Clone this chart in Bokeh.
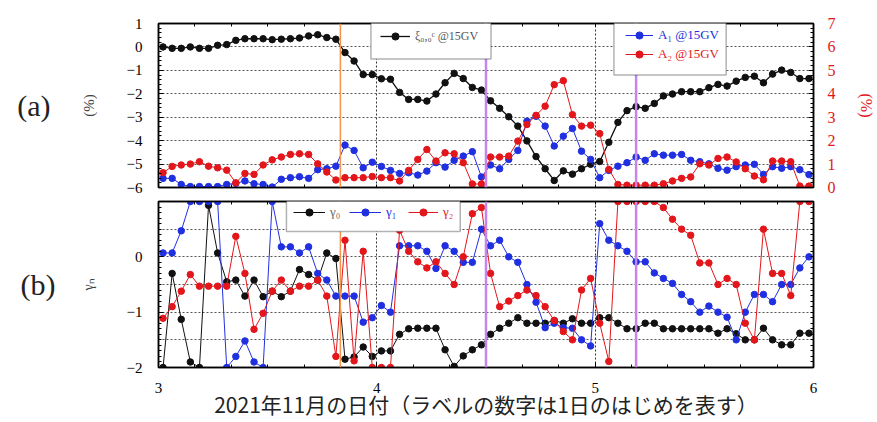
import numpy as np
from bokeh.plotting import figure
from bokeh.models import (LinearAxis, Range1d, FixedTicker, Span, Legend, LegendItem,
                          BoxAnnotation, ColumnDataSource)
from bokeh.layouts import column
from bokeh.embed import file_html
from bokeh.resources import INLINE

# ---------------- data ----------------
# hourly bins (bin centres), day of November 2021
hour_index = np.arange(72)
day = 3 + (hour_index + 0.5) / 24

xi = [0.0, -0.06, -0.06, 0.0, -0.06, -0.06, 0.07, 0.1, 0.28, 0.35, 0.35, 0.35, 0.31, 0.33, 0.35, 0.38,
      0.47, 0.52, 0.4, 0.33, -0.24, -0.6, -1.18, -1.18, -1.36, -1.38, -1.94, -2.24, -2.24, -2.31, -2.01,
      -1.53, -1.13, -1.35, -1.73, -1.84, -2.30, -2.62, -2.98, -3.38, -4.01, -4.68, -5.2, -5.7, -5.29,
      -5.43, -5.2, -5.01, -4.89, -4.07, -3.22, -2.72, -2.55, -2.62, -2.41, -2.09, -2.01, -1.91, -1.91,
      -1.91, -1.74, -1.6, -1.67, -1.46, -1.3, -1.25, -1.53, -1.16, -0.99, -1.09, -1.35, -1.35]

a1 = [0.39, 0.39, 0.13, 0.04, 0.04, 0.04, 0.04, 0.13, 0.18, 0.28, 0.16, 0.13, 0.02, 0.35, 0.42, 0.46,
      0.39, 0.76, 0.8, 0.91, 1.81, 1.58, 0.84, 1.08, 0.9, 0.73, 0.6, 0.63, 0.53, 0.7, 1.06, 0.87, 1.16,
      1.34, 1.53, 0.45, 0.96, 0.8, 1.2, 1.58, 2.83, 3.04, 2.62, 1.77, 2.19, 2.52, 1.55, 1.2, 0.42,
      0.73, 0.91, 1.06, 1.3, 1.16, 1.44, 1.38, 1.38, 1.41, 1.16, 1.1, 1.01, 0.82, 0.74, 0.89, 0.96,
      0.99, 0.56, 0.89, 0.82, 0.89, 0.76, 0.55]

a2 = [0.63, 0.9, 0.96, 1.0, 1.1, 0.91, 0.84, 0.74, 0.2, 0.6, 0.56, 0.96, 1.18, 1.3, 1.41, 1.44, 1.41,
      1.01, 0.66, 0.32, 0.42, 0.42, 0.42, 0.47, 0.42, 0.42, 0.28, 0.73, 1.2, 1.62, 1.13, 1.48, 1.44,
      1.06, 0.15, 0.15, 1.3, 1.3, 1.34, 1.98, 2.69, 3.08, 3.47, 4.39, 4.56, 3.11, 2.62, 2.66, 2.3,
      0.77, 0.13, 0.1, 0.1, 0.1, 0.1, 0.16, 0.28, 0.39, 0.45, 1.01, 0.96, 1.24, 1.3, 1.09, 0.8, 0.49,
      0.33, 1.13, 1.13, 1.1, 0.06, 0.06]

g0 = [-2.0, -0.3, -1.13, -1.9, -2.0, 0.93, 0.07, -0.45, -0.42, -0.71, -0.42, -0.72, -0.62, -0.72,
      -0.62, -0.23, -0.32, -0.42, 0.07, -0.03, -1.85, -1.81, -1.63, -1.8, -1.7, -1.7, -1.4, -1.3,
      -1.29, -1.29, -1.29, -1.68, -1.98, -1.79, -1.68, -1.59, -1.4, -1.29, -1.2, -1.1, -1.2, -1.2,
      -1.2, -1.15, -1.2, -1.12, -1.2, -1.2, -1.1, -1.1, -1.2, -1.3, -1.3, -1.2, -1.2, -1.3, -1.3,
      -1.3, -1.3, -1.3, -1.3, -1.38, -1.3, -1.39, -1.5, -1.5, -1.29, -1.5, -1.59, -1.59, -1.38, -1.38]

g1 = [0.07, 0.07, 0.47, 1.0, 1.0, 1.0, 1.0, -2.0, -1.8, -1.52, -1.9, -2.0, 1.0, 0.18, 0.18, 0.07,
      0.18, -0.3, -0.42, -0.71, -0.71, -0.71, -1.18, -1.1, -0.88, -1.0, 0.2, 0.2, 0.2, 0.1, -0.21,
      0.2, 0.1, -0.1, -0.1, 0.5, 0.2, 0.3, 0.0, -0.1, -0.5, -0.82, -1.28, -1.2, -1.28, -1.29, -1.5,
      -1.61, 0.6, 0.3, 0.2, 0.1, -0.09, -0.09, -0.29, -0.39, -0.48, -0.68, -0.81, -1.0, -0.89, -1.0,
      -1.09, -1.5, -1.0, -0.68, -0.68, -0.81, -0.5, -0.5, -0.2, 0.0]

g2 = [-1.11, -0.9, -0.62, -0.32, -0.53, -0.53, -0.53, -0.53, 0.37, -0.3, -1.31, -1.02, -0.62, -0.42,
      -0.62, -0.53, -0.53, -0.42, -0.71, -1.8, 0.3, -1.88, 0.1, -2.0, -2.0, -2.0, 0.48, 0.1, -0.09,
      -0.2, -0.09, -0.3, -0.5, 0.0, 0.78, 0.89, -0.3, -0.9, -0.8, -0.7, -0.6, -0.7, -0.9, -1.15,
      -1.35, -1.5, -0.6, -0.39, -1.2, -1.89, 1.0, 1.0, 1.0, 1.0, 1.0, 0.89, 0.68, 0.5, 0.39, -0.11,
      -0.11, -0.5, -0.39, -0.5, -1.2, -1.5, 0.5, -0.3, -0.3, -0.7, 1.0, 1.0]

orange_events = [3.833]
purple_events = [4.5, 5.1875]

x_ticks = [3, 4, 5, 6]
left_ticks = [-6, -5, -4, -3, -2, -1, 0, 1]
right_ticks = [0, 1, 2, 3, 4, 5, 6, 7]
g_ticks = [-2, -1, 0]

# ---------------- style ----------------
SERIF = "Liberation Serif"
BLACK = "#111111"
BLUE = "#2030e0"
RED = "#e3161b"
ORANGE = "#f5944a"
PURPLE = "#c684ee"
W = 877

src = ColumnDataSource(dict(day=day, xi=xi, a1=a1, a2=a2, g0=g0, g1=g1, g2=g2))


def style_axis(ax, size="15px"):
    ax.axis_line_color = "black"
    ax.axis_line_width = 1.5
    ax.major_tick_in = 5
    ax.major_tick_out = 0
    ax.minor_tick_in = 3
    ax.minor_tick_out = 0
    ax.major_tick_line_color = "black"
    ax.minor_tick_line_color = "black"
    ax.major_label_text_font = SERIF
    ax.major_label_text_font_size = size
    ax.major_label_text_color = "black"


def tick_only_axis(ax, marks):
    # frame-side ticks without any labels (all marks given as minor ticks)
    ax.ticker = FixedTicker(ticks=[], minor_ticks=marks)
    ax.axis_line_color = "black"
    ax.axis_line_width = 1.5
    ax.minor_tick_in = 3
    ax.minor_tick_out = 0
    ax.minor_tick_line_color = "black"
    ax.major_label_standoff = 0


def panel_tag(ax, pos, text, standoff):
    # an extra, line-less axis that only carries the panel tag "(a)" / "(b)"
    ax.ticker = FixedTicker(ticks=[pos], minor_ticks=[])
    ax.major_label_overrides = {pos: text}
    ax.axis_line_color = None
    ax.major_tick_line_color = None
    ax.minor_tick_line_color = None
    ax.major_tick_out = 0
    ax.major_tick_in = 0
    ax.major_label_standoff = standoff
    ax.major_label_text_font = SERIF
    ax.major_label_text_font_size = "30px"
    ax.major_label_text_color = "#222222"


x_minor = list(np.arange(3, 6.001, 1 / 6))

# ---------------- panel (a) ----------------
p1 = figure(width=W, height=197, x_range=Range1d(3, 6), y_range=Range1d(-6, 1),
            output_backend="svg", toolbar_location=None,
            min_border_left=158, min_border_right=59, min_border_top=23, min_border_bottom=10)
p1.extra_y_ranges = {"pct": Range1d(0, 7)}
p1.outline_line_color = "black"
p1.outline_line_width = 1.5

tick_only_axis(p1.xaxis[0], x_minor)
top1 = LinearAxis()
tick_only_axis(top1, x_minor)
p1.add_layout(top1, "above")

p1.yaxis.ticker = FixedTicker(ticks=left_ticks, minor_ticks=list(np.arange(-6, 1.001, 0.2)))
style_axis(p1.yaxis[0], size="15px")
p1.yaxis.major_label_standoff = 16
p1.yaxis.axis_label = "(%)"
p1.yaxis.axis_label_text_font = SERIF
p1.yaxis.axis_label_text_font_style = "normal"
p1.yaxis.axis_label_text_font_size = "15px"
p1.yaxis.axis_label_standoff = 27

tag_a = LinearAxis()
panel_tag(tag_a, -2.5, "(a)", 27)
p1.add_layout(tag_a, "left")

rax = LinearAxis(y_range_name="pct",
                 ticker=FixedTicker(ticks=right_ticks, minor_ticks=list(np.arange(0, 7.001, 0.2))),
                 axis_label="(%)")
style_axis(rax, size="16px")
rax.major_label_text_color = RED
rax.major_label_standoff = 14
rax.axis_label_text_color = RED
rax.axis_label_text_font = SERIF
rax.axis_label_text_font_style = "normal"
rax.axis_label_text_font_size = "16px"
rax.axis_label_standoff = 19
p1.add_layout(rax, "right")

p1.xgrid.ticker = FixedTicker(ticks=[4, 5])
p1.xgrid.grid_line_color = "#333333"
p1.xgrid.grid_line_dash = "2 2"
p1.ygrid.ticker = FixedTicker(ticks=[-5, -4, -3, -2, -1, 0])
p1.ygrid.grid_line_color = "#555555"
p1.ygrid.grid_line_dash = "2 2"

for xv in orange_events:
    p1.add_layout(Span(location=xv, dimension="height", line_color=ORANGE, line_width=1.5))
for xv in purple_events:
    p1.add_layout(Span(location=xv, dimension="height", line_color=PURPLE, line_width=2.5))

r_xi_l = p1.line("day", "xi", source=src, line_color=BLACK, line_width=1.3)
r_xi_c = p1.scatter("day", "xi", source=src, size=6.5, color=BLACK)
r_a1_l = p1.line("day", "a1", source=src, y_range_name="pct", line_color=BLUE, line_width=1)
r_a1_c = p1.scatter("day", "a1", source=src, y_range_name="pct", size=6.5, color=BLUE)
r_a2_l = p1.line("day", "a2", source=src, y_range_name="pct", line_color=RED, line_width=1)
r_a2_c = p1.scatter("day", "a2", source=src, y_range_name="pct", size=6.5, color=RED)

# legend boxes
p1.add_layout(BoxAnnotation(left=3.973, right=4.523, bottom=-0.52, top=1.15,
                            fill_color="white", fill_alpha=1, line_color="black", line_width=1.5))
p1.add_layout(BoxAnnotation(left=5.086, right=5.6, bottom=-1.2, top=1.15,
                            fill_color="white", fill_alpha=1, line_color="black", line_width=1.5))


def mk_legend(items, loc, color, size="12px", glyph_width=30):
    lg = Legend(items=items, location=loc, orientation="horizontal",
                border_line_alpha=0, background_fill_alpha=0, padding=2, margin=0,
                glyph_width=glyph_width, glyph_height=18, label_height=18, label_standoff=5,
                label_text_font=SERIF, label_text_font_size=size, label_text_color=color)
    return lg


p1.add_layout(mk_legend([LegendItem(label="ξ₀,₀ᶜ @15GV", renderers=[r_xi_l, r_xi_c])],
                        (220, 140), "#555555"))
p1.add_layout(mk_legend([LegendItem(label="A₁ @15GV", renderers=[r_a1_l, r_a1_c])],
                        (465, 141), BLUE, size="13px", glyph_width=28))
p1.add_layout(mk_legend([LegendItem(label="A₂ @15GV", renderers=[r_a2_l, r_a2_c])],
                        (465, 122), RED, size="13px", glyph_width=28))

# ---------------- panel (b) ----------------
p2 = figure(width=W, height=225, x_range=p1.x_range, y_range=Range1d(-2, 1),
            output_backend="svg", toolbar_location=None,
            min_border_left=158, min_border_right=59, min_border_top=4, min_border_bottom=55)
p2.outline_line_color = "black"
p2.outline_line_width = 1.5

p2.xaxis.ticker = FixedTicker(ticks=x_ticks, minor_ticks=x_minor)
style_axis(p2.xaxis[0], size="15px")
p2.xaxis.major_label_standoff = 15
p2.xaxis.axis_label = "2021年11月の日付（ラベルの数字は1日のはじめを表す）"
p2.xaxis.axis_label_text_font = "Noto Sans CJK JP"
p2.xaxis.axis_label_text_font_style = "normal"
p2.xaxis.axis_label_text_font_size = "21px"
p2.xaxis.axis_label_standoff = -7
p2.xaxis.axis_label_text_color = "#222222"
top2 = LinearAxis()
tick_only_axis(top2, x_minor)
p2.add_layout(top2, "above")

p2.yaxis.ticker = FixedTicker(ticks=g_ticks, minor_ticks=list(np.arange(-2, 1.001, 0.1)))
style_axis(p2.yaxis[0], size="15px")
p2.yaxis.major_label_standoff = 16
p2.yaxis.axis_label = "γₙ"
p2.yaxis.axis_label_text_font = SERIF
p2.yaxis.axis_label_text_font_style = "normal"
p2.yaxis.axis_label_text_font_size = "14px"
p2.yaxis.axis_label_standoff = 28

tag_b = LinearAxis()
panel_tag(tag_b, -0.5, "(b)", 22)
p2.add_layout(tag_b, "left")

rax2 = LinearAxis()
tick_only_axis(rax2, list(np.arange(-2, 1.001, 0.1)))
p2.add_layout(rax2, "right")

p2.xgrid.ticker = FixedTicker(ticks=[4, 5])
p2.xgrid.grid_line_color = "#333333"
p2.xgrid.grid_line_dash = "2 2"
p2.ygrid.ticker = FixedTicker(ticks=[-1.5, -1, -0.5, 0, 0.5])
p2.ygrid.grid_line_color = "#555555"
p2.ygrid.grid_line_dash = "2 2"

for xv in orange_events:
    p2.add_layout(Span(location=xv, dimension="height", line_color=ORANGE, line_width=1.5))
for xv in purple_events:
    p2.add_layout(Span(location=xv, dimension="height", line_color=PURPLE, line_width=2.5))

r_g0_l = p2.line("day", "g0", source=src, line_color=BLACK, line_width=1)
r_g0_c = p2.scatter("day", "g0", source=src, size=6.5, color=BLACK)
r_g1_l = p2.line("day", "g1", source=src, line_color=BLUE, line_width=1)
r_g1_c = p2.scatter("day", "g1", source=src, size=6.5, color=BLUE)
r_g2_l = p2.line("day", "g2", source=src, line_color=RED, line_width=1)
r_g2_c = p2.scatter("day", "g2", source=src, size=6.5, color=RED)

p2.add_layout(BoxAnnotation(left=3.586, right=4.382, bottom=0.457, top=1.127,
                            fill_color="white", fill_alpha=1, line_color="black", line_width=1.5))
p2.add_layout(mk_legend([LegendItem(label="γ₀", renderers=[r_g0_l, r_g0_c])], (133, 144),
                        "#666666", size="13px", glyph_width=32))
p2.add_layout(mk_legend([LegendItem(label="γ₁", renderers=[r_g1_l, r_g1_c])], (189, 144),
                        BLUE, size="13px", glyph_width=32))
p2.add_layout(mk_legend([LegendItem(label="γ₂", renderers=[r_g2_l, r_g2_c])], (248, 144),
                        RED, size="13px", glyph_width=30))

layout = column(p1, p2, spacing=0)
open("out.html", "w").write(file_html(layout, INLINE))
